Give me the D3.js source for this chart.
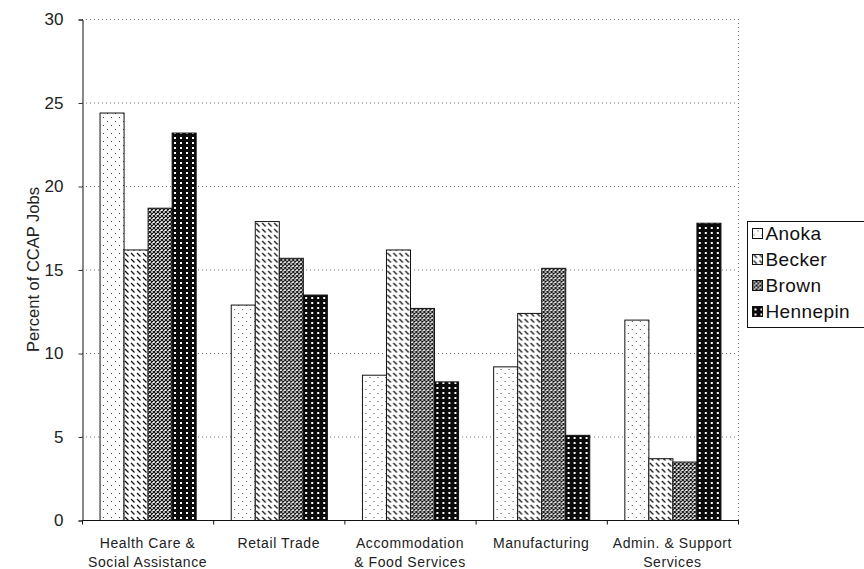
<!DOCTYPE html>
<html>
<head>
<meta charset="utf-8">
<script src="https://cdn.jsdelivr.net/npm/d3@7"></script>
<style>
  html, body { margin: 0; padding: 0; background: #fff; }
  svg { display: block; font-family: "Liberation Sans", Arial, sans-serif; }
</style>
</head>
<body>
<svg id="chart" width="864" height="569"></svg>
<script>
// Industry categories (two-line labels)
const categories = [
  ["Health Care &", "Social Assistance"],
  ["Retail Trade"],
  ["Accommodation", "& Food Services"],
  ["Manufacturing"],
  ["Admin. & Support", "Services"]
];
const seriesNames = ["Anoka", "Becker", "Brown", "Hennepin"];
const anoka    = [24.4, 12.9, 8.7, 9.2, 12.0];
const becker   = [16.2, 17.9, 16.2, 12.4, 3.7];
const brown    = [18.7, 15.7, 12.7, 15.1, 3.5];
const hennepin = [23.2, 13.5, 8.3, 5.1, 17.8];
const seriesValues = [anoka, becker, brown, hennepin];
const yTicks = [0, 5, 10, 15, 20, 25, 30];

const svg = d3.select("#chart");
const x0 = 82, x1 = 738, y0 = 520, y1 = 19;

// Fill patterns for the four series
const defs = svg.append("defs");

const pA = defs.append("pattern").attr("id", "pat-anoka")
  .attr("patternUnits", "userSpaceOnUse").attr("width", 8).attr("height", 8);
pA.append("rect").attr("width", 8).attr("height", 8).attr("fill", "#fff");
[[1, 1], [5, 5]].forEach(([cx, cy]) =>
  pA.append("rect").attr("x", cx).attr("y", cy).attr("width", 1).attr("height", 1).attr("fill", "#444"));

const pB = defs.append("pattern").attr("id", "pat-becker")
  .attr("patternUnits", "userSpaceOnUse").attr("width", 6).attr("height", 6);
pB.append("rect").attr("width", 6).attr("height", 6).attr("fill", "#fff");
pB.append("path").attr("d", "M1,1 L4.5,4.5").attr("stroke", "#111").attr("stroke-width", 1.2);

const pC = defs.append("pattern").attr("id", "pat-brown")
  .attr("patternUnits", "userSpaceOnUse").attr("width", 4).attr("height", 4);
pC.append("rect").attr("width", 4).attr("height", 4).attr("fill", "#fff");
pC.append("path").attr("d", "M0,0 L4,4 M4,0 L0,4").attr("stroke", "#111").attr("stroke-width", 1.2);

const pD = defs.append("pattern").attr("id", "pat-hennepin")
  .attr("patternUnits", "userSpaceOnUse").attr("width", 6).attr("height", 5);
pD.append("rect").attr("width", 6).attr("height", 5).attr("fill", "#0a0a0a");
pD.append("rect").attr("x", 2).attr("y", 2).attr("width", 2).attr("height", 2).attr("fill", "#fff");

const fills = ["url(#pat-anoka)", "url(#pat-becker)", "url(#pat-brown)", "url(#pat-hennepin)"];

// Scales
const xBand = d3.scaleBand().domain(d3.range(categories.length)).range([x0, x1]).paddingInner(0).paddingOuter(0);
const xInner = d3.scaleBand().domain(d3.range(seriesNames.length))
  .range([0, xBand.bandwidth()]).paddingInner(0).paddingOuter(0.73);
const y = d3.scaleLinear().domain([0, 30]).range([y0, y1]);

// Gridlines (dotted) and plot frame
svg.append("g").selectAll("line").data(yTicks.filter(t => t > 0)).join("line")
  .attr("x1", x0).attr("x2", x1)
  .attr("y1", d => y(d) + 0.5).attr("y2", d => y(d) + 0.5)
  .attr("stroke", "#777").attr("stroke-width", 1).attr("stroke-dasharray", "1,3");
svg.append("line").attr("x1", x1 + 0.5).attr("x2", x1 + 0.5).attr("y1", y1).attr("y2", y0)
  .attr("stroke", "#777").attr("stroke-dasharray", "1,3");

// Bars
const groups = svg.append("g").selectAll("g").data(categories).join("g")
  .attr("transform", (d, i) => `translate(${xBand(i)},0)`);
groups.each(function (c, ci) {
  d3.select(this).selectAll("rect").data(seriesValues.map((s, si) => ({ si, v: s[ci] }))).join("rect")
    .attr("x", d => xInner(d.si) + 0.5)
    .attr("y", d => y(d.v) + 0.5)
    .attr("width", xInner.bandwidth())
    .attr("height", d => y0 - y(d.v))
    .attr("fill", d => fills[d.si])
    .attr("stroke", "#111").attr("stroke-width", 1);
});

// Y axis
const yAxis = d3.axisLeft(y).tickValues(yTicks).tickSize(4).tickPadding(15);
const gy = svg.append("g").attr("transform", `translate(${x0 + 0.5},0.5)`).call(yAxis);
gy.select(".domain").attr("stroke", "#111");
gy.selectAll(".tick line").attr("stroke", "#333");
gy.selectAll(".tick text").attr("font-size", 17).attr("fill", "#222")
  .attr("font-family", "'Liberation Sans', Arial, sans-serif");

// X axis with ticks at category boundaries
const gx = svg.append("g").attr("transform", `translate(0,${y0 + 0.5})`);
gx.append("line").attr("x1", x0).attr("x2", x1 + 1).attr("stroke", "#111");
gx.selectAll("line.tk").data(d3.range(categories.length + 1)).join("line").attr("class", "tk")
  .attr("x1", i => (i < categories.length ? xBand(i) : x1) + 0.5)
  .attr("x2", i => (i < categories.length ? xBand(i) : x1) + 0.5)
  .attr("y1", 0).attr("y2", 4).attr("stroke", "#111");
gx.selectAll("text").data(categories).join("text")
  .attr("text-anchor", "middle")
  .attr("font-size", 14).attr("letter-spacing", 0.6).attr("fill", "#222")
  .attr("transform", (d, i) => `translate(${xBand(i) + xBand.bandwidth() / 2},0)`)
  .each(function (lines) {
    d3.select(this).selectAll("tspan").data(lines).join("tspan")
      .attr("x", 0).attr("y", (l, k) => 27 + k * 19).text(l => l);
  });

// Y axis title
svg.append("text")
  .attr("transform", `translate(39,${(y0 + y1) / 2}) rotate(-90)`)
  .attr("text-anchor", "middle").attr("font-size", 16.5).attr("fill", "#222")
  .text("Percent of CCAP Jobs");

// Legend
const lg = svg.append("g").attr("transform", "translate(747.5,221.5)");
lg.append("rect").attr("width", 130).attr("height", 106).attr("fill", "#fff")
  .attr("stroke", "#111").attr("stroke-width", 1);
const items = lg.selectAll("g.item").data(seriesNames).join("g").attr("class", "item")
  .attr("transform", (d, i) => `translate(5,${12 + i * 26})`);
items.append("rect").attr("x", 0).attr("y", -5).attr("width", 10).attr("height", 10)
  .attr("fill", (d, i) => fills[i]).attr("stroke", "#111");
items.append("text").attr("x", 13).attr("y", 0).attr("dy", "0.36em")
  .attr("font-size", 19).attr("letter-spacing", 0.4).attr("fill", "#111").text(d => d);
</script>
</body>
</html>
